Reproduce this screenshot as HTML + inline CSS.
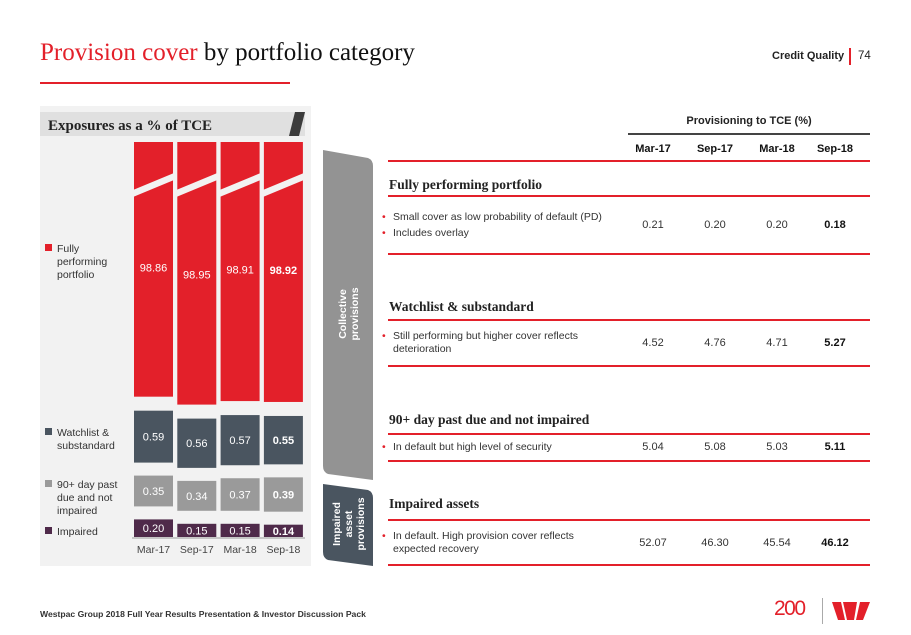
<!DOCTYPE html>
<html><head><meta charset="utf-8">
<style>
body{margin:0;width:911px;height:635px;background:#fff;position:relative;overflow:hidden;font-family:"Liberation Sans",sans-serif;color:#222}
.a{position:absolute;white-space:nowrap}
.serif{font-family:"Liberation Serif",serif}
.rl{position:absolute;left:388px;width:482px;height:2px;background:#e3202a}
.val{position:absolute;width:60px;text-align:center;font-size:11px;color:#333}
.b{font-weight:bold;color:#111}
.bul{position:absolute;left:382px;font-size:10.5px;color:#333;line-height:13px}
.bul span.d{color:#e3202a;position:absolute;left:0}
.bul div{padding-left:11px}
.st{position:absolute;left:389px;font-family:"Liberation Serif",serif;font-weight:bold;font-size:13.5px;color:#222}
</style></head><body>
<div class="a serif" style="left:40px;top:39px;font-size:25px;color:#111"><span style="color:#e3202a">Provision cover</span> by portfolio category</div>
<div class="a" style="left:40px;top:82px;width:250px;height:2px;background:#e3202a"></div>
<div class="a" style="left:772px;top:50px;font-size:11px;font-weight:bold">Credit Quality</div>
<div class="a" style="left:849px;top:48px;width:1.5px;height:17px;background:#e3202a"></div>
<div class="a" style="left:858px;top:50px;font-size:11.5px">74</div>

<svg class="a" style="left:0;top:0" width="911" height="635" id="chart">
<rect x="40" y="106" width="271" height="460" fill="#f2f2f2"/>
<rect x="40" y="112" width="265" height="24" fill="#e0e0e0"/>
<polygon points="295,112 305,112 299,136 289,136" fill="#3c3c3c"/>
<text x="48" y="130" font-family="Liberation Serif" font-weight="bold" font-size="15" fill="#222">Exposures as a % of TCE</text>
<g id="legend"></g>
<g id="bars"></g>
<line x1="132" y1="538" x2="305" y2="538" stroke="#999" stroke-width="1"/>
<path d="M323,150 L368,158 Q373,160 373,166 L373,480 L328,474 Q323,472 323,466 Z" fill="#939393"/>
<text transform="translate(346,314) rotate(-90)" text-anchor="middle" font-size="10.5" font-weight="bold" fill="#fff"><tspan x="0" dy="0">Collective</tspan><tspan x="0" dy="12">provisions</tspan></text>
<path d="M323,484 L368,490 Q373,492 373,498 L373,566 L328,560 Q323,558 323,552 Z" fill="#4a5560"/>
<text transform="translate(340,524) rotate(-90)" text-anchor="middle" font-size="10.5" font-weight="bold" fill="#fff"><tspan x="0" dy="0">Impaired</tspan><tspan x="0" dy="12">asset</tspan><tspan x="0" dy="12">provisions</tspan></text>
</svg>

<div class="a" style="left:628px;top:115px;width:242px;text-align:center;font-size:11px;font-weight:bold">Provisioning to TCE (%)</div>
<div class="a" style="left:628px;top:133px;width:242px;height:1.5px;background:#444"></div>
<div class="val b" style="left:623px;top:143px">Mar-17</div>
<div class="val b" style="left:685px;top:143px">Sep-17</div>
<div class="val b" style="left:747px;top:143px">Mar-18</div>
<div class="val b" style="left:805px;top:143px">Sep-18</div>
<div class="rl" style="top:160px"></div>

<div class="st" style="top:177px">Fully performing portfolio</div>
<div class="rl" style="top:195px"></div>
<div class="bul" style="top:211px"><span class="d">•</span><div>Small cover as low probability of default (PD)</div><span class="d" style="top:16px">•</span><div style="margin-top:3px">Includes overlay</div></div>
<div class="val" style="left:623px;top:219px">0.21</div>
<div class="val" style="left:685px;top:219px">0.20</div>
<div class="val" style="left:747px;top:219px">0.20</div>
<div class="val b" style="left:805px;top:219px">0.18</div>
<div class="rl" style="top:253px"></div>

<div class="st" style="top:299px">Watchlist &amp; substandard</div>
<div class="rl" style="top:319px"></div>
<div class="bul" style="top:330px"><span class="d">•</span><div>Still performing but higher cover reflects<br>deterioration</div></div>
<div class="val" style="left:623px;top:337px">4.52</div>
<div class="val" style="left:685px;top:337px">4.76</div>
<div class="val" style="left:747px;top:337px">4.71</div>
<div class="val b" style="left:805px;top:337px">5.27</div>
<div class="rl" style="top:365px"></div>

<div class="st" style="top:412px">90+ day past due and not impaired</div>
<div class="rl" style="top:433px"></div>
<div class="bul" style="top:441px"><span class="d">•</span><div>In default but high level of security</div></div>
<div class="val" style="left:623px;top:441px">5.04</div>
<div class="val" style="left:685px;top:441px">5.08</div>
<div class="val" style="left:747px;top:441px">5.03</div>
<div class="val b" style="left:805px;top:441px">5.11</div>
<div class="rl" style="top:460px"></div>

<div class="st" style="top:496px">Impaired assets</div>
<div class="rl" style="top:519px"></div>
<div class="bul" style="top:530px"><span class="d">•</span><div>In default. High provision cover reflects<br>expected recovery</div></div>
<div class="val" style="left:623px;top:537px">52.07</div>
<div class="val" style="left:685px;top:537px">46.30</div>
<div class="val" style="left:747px;top:537px">45.54</div>
<div class="val b" style="left:805px;top:537px">46.12</div>
<div class="rl" style="top:564px"></div>

<div class="a" style="left:40px;top:609px;font-size:8.6px;font-weight:bold;color:#333">Westpac Group 2018 Full Year Results Presentation &amp; Investor Discussion Pack</div>
<div class="a" style="left:774px;top:597px;font-size:21px;color:#e3202a;letter-spacing:-1.5px">200</div>
<div class="a" style="left:822px;top:598px;width:1px;height:26px;background:#aaa"></div>
<svg class="a" style="left:832px;top:602px" width="40" height="20"><polygon points="0,0 9,0 13,18 6,18" fill="#e3202a"/><polygon points="11,0 25,0 22,18 15,18" fill="#e3202a"/><polygon points="28,0 38,0 31,18 24,18" fill="#e3202a"/></svg>

<script>
const categories=["Mar-17","Sep-17","Mar-18","Sep-18"];
const fullyPerforming=[98.86,98.95,98.91,98.92];
const watchlist=[0.59,0.56,0.57,0.55];
const pastDue=[0.35,0.34,0.37,0.39];
const impaired=[0.20,0.15,0.15,0.14];
const seriesNames=["Fully performing portfolio","Watchlist & substandard","90+ day past due and not impaired","Impaired"];
</script>
<script>
(function(){
const NS="http://www.w3.org/2000/svg";
const bars=document.getElementById('bars'), leg=document.getElementById('legend');
const base=537, unit=88, gap=13, redTop=142, x0=134, step=43.3, bw=39;
const bold=[false,false,false,true];
function mk(tag,attrs,parent){const e=document.createElementNS(NS,tag);for(const k in attrs)e.setAttribute(k,attrs[k]);parent.appendChild(e);return e;}
function xScale(i){return x0+i*step;}
function hScale(v){return v*unit;}
function label(x,y,txt,fill,b){const t=mk('text',{x:x,y:y,'text-anchor':'middle','font-size':11,fill:fill},bars);if(b)t.setAttribute('font-weight','bold');t.textContent=txt;

}
categories.forEach((c,i)=>{
  const x=xScale(i);
  let y=base;
  const segs=[[impaired[i],'#4f2a4a','#fff','impaired'],[pastDue[i],'#9a9a9a','#fff','past-due'],[watchlist[i],'#4a5560','#fff','watchlist']];
  segs.forEach((s,k)=>{
    const h=hScale(s[0]);
    const r=mk('rect',{x:x,y:y-h,width:bw,height:h,fill:s[1]},bars);
    
    
    label(x+bw/2,y-h/2+4,s[0].toFixed(2),s[2],bold[i]);
    y=y-h-(k<2?gap:14);
  });
  const r=mk('rect',{x:x,y:redTop,width:bw,height:y-redTop,fill:'#e3202a'},bars);
  
  
  const br=mk('polygon',{points:`${x-1},${redTop+48} ${x+bw+1},${redTop+31} ${x+bw+1},${redTop+38} ${x-1},${redTop+55}`,fill:'#f2f2f2'},bars);
  
  
  label(x+bw/2,(redTop+y)/2+2+(i==1?3:0),fullyPerforming[i].toFixed(2),'#fff',bold[i]);
  const t=mk('text',{x:x+bw/2,y:553,'text-anchor':'middle','font-size':10.5,fill:'#444'},bars);
  t.textContent=c;
  
  
});
const legItems=[[seriesNames[0],'#e3202a',252,['Fully','performing','portfolio']],[seriesNames[1],'#4a5560',436,['Watchlist &','substandard']],[seriesNames[2],'#9a9a9a',488,['90+ day past','due and not','impaired']],[seriesNames[3],'#4f2a4a',535,['Impaired']]];
legItems.forEach(l=>{
  const g=mk('g',{},leg);
  
  
  mk('rect',{x:45,y:l[2]-8,width:7,height:7,fill:l[1]},g);
  l[3].forEach((s,j)=>{const t=mk('text',{x:57,y:l[2]+j*13,'font-size':10.5,fill:'#333'},g);t.textContent=s;});
});
})();
</script>
</body></html>
